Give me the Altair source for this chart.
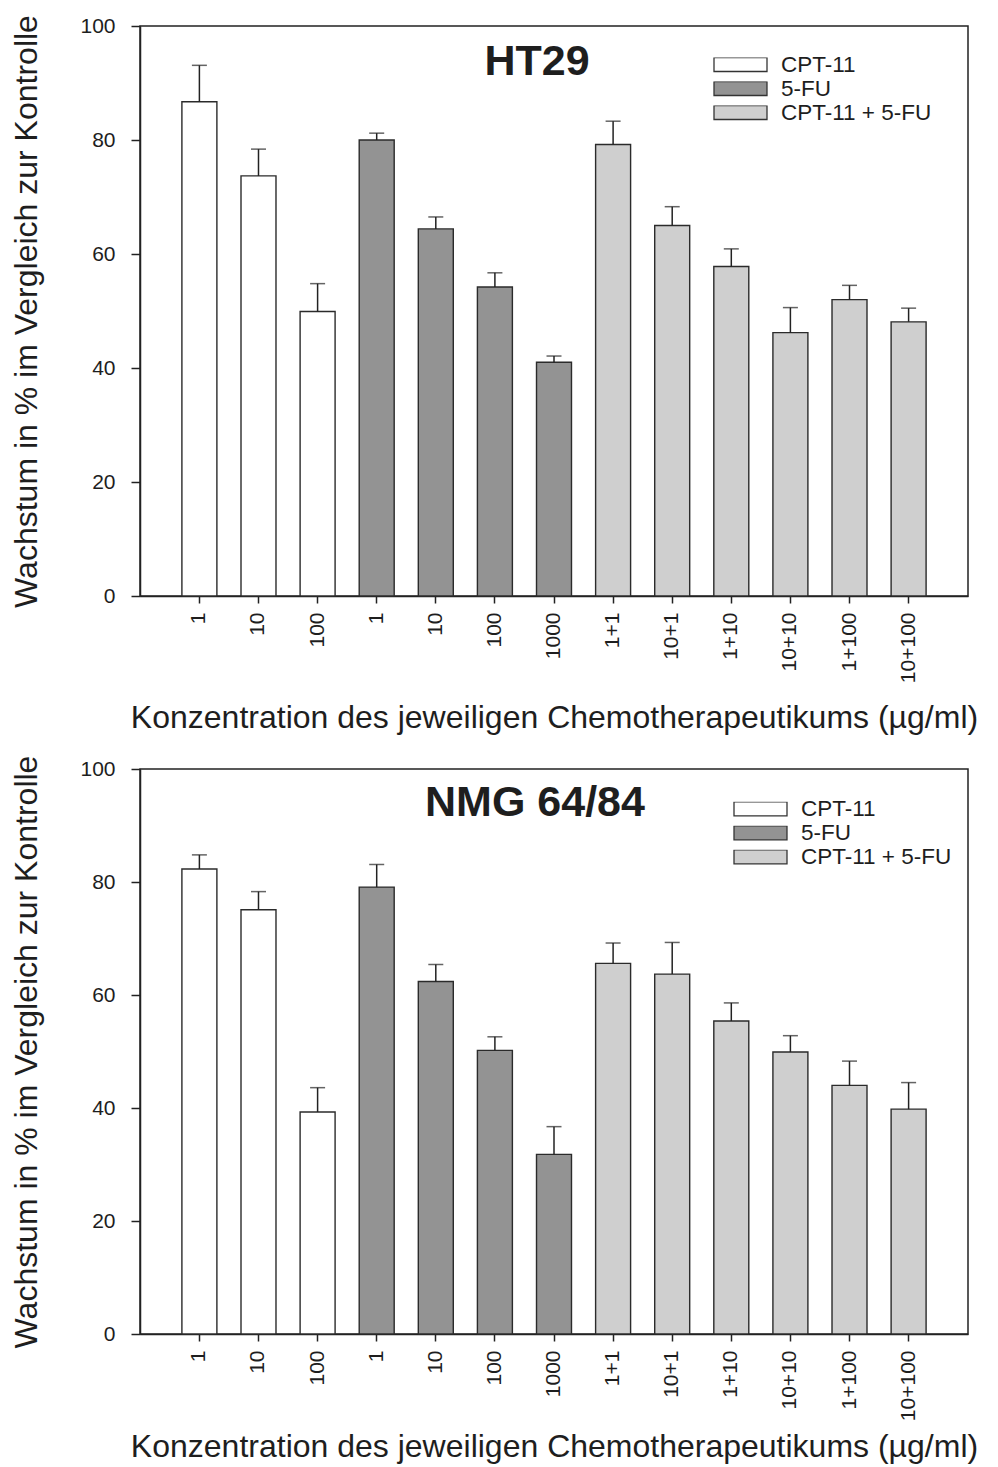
import json

import altair as alt
import pandas as pd

# Concentrations shown under each bar (µg/ml)
tick_labels = ["1", "10", "100", "1", "10", "100", "1000",
               "1+1", "10+1", "1+10", "10+10", "1+100", "10+100"]
groups = ["CPT-11"] * 3 + ["5-FU"] * 4 + ["CPT-11 + 5-FU"] * 6
series_names = ["CPT-11", "5-FU", "CPT-11 + 5-FU"]
series_fills = ["#ffffff", "#939393", "#cfcfcf"]

# Growth in % of control: mean and standard deviation per bar
ht29_mean = [86.7, 73.7, 49.9, 80.0, 64.4, 54.2, 41.0, 79.2, 65.0, 57.8, 46.2, 52.0, 48.1]
ht29_sd = [6.4, 4.7, 4.9, 1.2, 2.1, 2.5, 1.1, 4.1, 3.3, 3.1, 4.4, 2.5, 2.4]
nmg_mean = [82.3, 75.1, 39.3, 79.1, 62.4, 50.2, 31.8, 65.6, 63.7, 55.4, 49.9, 44.0, 39.8]
nmg_sd = [2.5, 3.2, 4.3, 4.0, 3.0, 2.4, 4.9, 3.6, 5.6, 3.2, 2.9, 4.3, 4.7]

y_ticks = [0, 20, 40, 60, 80, 100]
y_title = "Wachstum in % im Vergleich zur Kontrolle"
x_title = "Konzentration des jeweiligen Chemotherapeutikums (µg/ml)"

FONT = "Liberation Sans"
INK = "#1e1e1e"
# wide rectangular legend swatch (53 x 14 px at symbolSize 2809)
SWATCH = "M-1,-0.264L1,-0.264L1,0.264L-1,0.264Z"


def panel(name, means, sds, height, legend_x, legend_y, name_x, name_y, x_title_pad):
    df = pd.DataFrame({"idx": list(range(len(tick_labels))), "group": groups,
                       "mean": means, "sd": sds})
    base = alt.Chart(df).transform_calculate(upper="datum.mean + datum.sd")

    x = alt.X(
        "idx:O",
        scale=alt.Scale(paddingInner=0.408, paddingOuter=0.709),
        axis=alt.Axis(
            title=x_title,
            labelExpr=f"{json.dumps(tick_labels)}[datum.value]",
            labelAngle=270, labelAlign="right", labelBaseline="middle",
            labelPadding=9, tickSize=7, titlePadding=x_title_pad,
        ),
    )
    y_scale = alt.Scale(domain=[0, 100], nice=False)
    y_axis = alt.Axis(values=y_ticks, title=y_title, tickSize=9,
                      labelPadding=16, titlePadding=36)

    bars = base.mark_bar(stroke="#2b2b2b", strokeWidth=1.4).encode(
        x=x,
        y=alt.Y("mean:Q", scale=y_scale, axis=y_axis),
        color=alt.Color(
            "group:N",
            scale=alt.Scale(domain=series_names, range=series_fills),
            legend=alt.Legend(
                title=None, orient="none", legendX=legend_x, legendY=legend_y,
                symbolType=SWATCH, symbolSize=2809, symbolStrokeColor="#333333",
                symbolStrokeWidth=1.3, symbolOpacity=1, labelFontSize=22.5,
                labelFont=FONT, labelColor=INK, labelOffset=13,
                clipHeight=14, rowPadding=1, padding=0,
            ),
        ),
    )
    whiskers = base.mark_rule(color="#222222", strokeWidth=1.5).encode(
        x="idx:O",
        y=alt.Y("mean:Q", scale=y_scale, axis=y_axis),
        y2="upper:Q",
    )
    caps = base.mark_tick(color="#222222", thickness=1.5, size=15).encode(
        x="idx:O",
        y=alt.Y("upper:Q", scale=y_scale, axis=y_axis),
    )
    heading = alt.Chart(pd.DataFrame({"name": [name]})).mark_text(
        font=FONT, fontSize=43, fontWeight="bold", color=INK,
        align="center", baseline="alphabetic",
    ).encode(text="name:N", x=alt.value(name_x), y=alt.value(name_y))

    return alt.layer(bars, whiskers, caps, heading).properties(width=828, height=height)


top = panel("HT29", ht29_mean, ht29_sd, 570, 573, 31.5, 397, 49, 20)
bottom = panel("NMG 64/84", nmg_mean, nmg_sd, 565, 593, 32.8, 395, 47, 11)

chart = (
    alt.vconcat(top, bottom, spacing=19)
    .resolve_scale(color="independent", x="independent", y="independent")
    .resolve_legend(color="independent")
    .properties(padding={"left": 10, "top": 13, "right": 5, "bottom": 5})
    .configure_view(stroke="#222222", strokeWidth=1.5)
    .configure_axis(
        labelFont=FONT, titleFont=FONT, labelFontSize=21, titleFontSize=32,
        titleFontWeight="normal", labelColor=INK, titleColor=INK,
        domainColor="#222222", domainWidth=1.5, tickColor="#222222",
        tickWidth=1.5, grid=False,
    )
)

chart.save("out.html", embed_options={"renderer": "svg", "actions": False})
